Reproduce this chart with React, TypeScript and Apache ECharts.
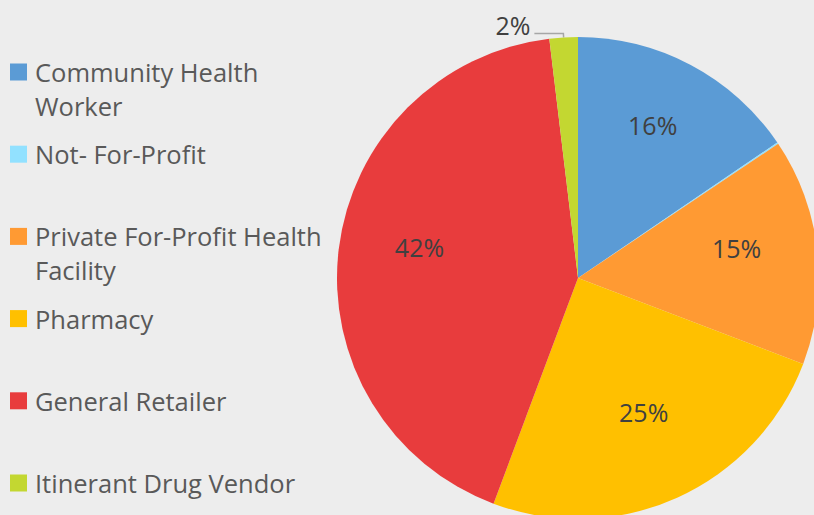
import React, { useEffect, useRef } from "react";
import * as echarts from "echarts";

const categories = [
  "Community Health Worker",
  "Not- For-Profit",
  "Private For-Profit Health Facility",
  "Pharmacy",
  "General Retailer",
  "Itinerant Drug Vendor",
];
const legendLabels = [
  "Community Health\nWorker",
  "Not- For-Profit",
  "Private For-Profit Health\nFacility",
  "Pharmacy",
  "General Retailer",
  "Itinerant Drug Vendor",
];
const values = [15.5, 0.1, 15.2, 24.9, 42.4, 1.9];
const colors = ["#5b9bd5", "#92e1ff", "#ff9a33", "#ffc000", "#e83c3d", "#c3d731"];

const FONT = "'Open Sans', sans-serif";
const CX = 578;
const CY = 278;
const R = 241;

export default function App() {
  const ref = useRef<HTMLDivElement>(null);
  useEffect(() => {
    if (!ref.current) return;
    const chart = echarts.init(ref.current, null, { renderer: "svg" });
    const lineH = 34;
    const slotTop = 72;
    const slotStep = 82.2;
    const legends = categories.map((name, i) => {
      const lines = legendLabels[i].split("\n").length;
      const center = slotTop + slotStep * i;
      // prefix blank lines so the first text line sits level with the icon
      const text = "\n".repeat(lines - 1) + legendLabels[i];
      return {
        show: true,
        orient: "vertical",
        left: 10,
        top: center - lineH / 2 - lineH * (lines - 1),
        padding: 0,
        itemWidth: 17,
        itemHeight: 17,
        icon: "rect",
        selectedMode: false,
        data: [name],
        formatter: () => text,
        textStyle: {
          fontFamily: FONT,
          fontSize: 25.5,
          color: "#595959",
          lineHeight: lineH,
          padding: [0, 0, 0, 3],
        },
      };
    });
    const fmt = (p: any) => Math.round(p.value) + "%";
    chart.setOption({
      animation: false,
      backgroundColor: "#ededed",
      legend: legends,
      series: [
        {
          type: "pie",
          center: [CX, CY],
          radius: R,
          startAngle: 90,
          clockwise: true,
          emphasis: { disabled: true },
          data: categories.map((name, i) => ({
            name,
            value: values[i],
            itemStyle: { color: colors[i], borderWidth: 0 },
            label: { show: values[i] >= 1 && values[i] < 5 },
            labelLine: { show: values[i] >= 1 && values[i] < 5 },
          })),
          label: {
            position: "outside",
            formatter: fmt,
            fontFamily: FONT,
            fontSize: 25,
            color: "#404040",
            distanceToLabelLine: 4,
          },
          labelLine: {
            length: 4,
            length2: 29,
            smooth: false,
            lineStyle: { color: "#a6a6a6", width: 1.5 },
          },
          labelLayout: { dy: -8 },
        },
        {
          type: "pie",
          center: [CX, CY],
          radius: R * 1.3,
          startAngle: 90,
          clockwise: true,
          silent: true,
          emphasis: { disabled: true },
          itemStyle: { color: "rgba(0,0,0,0)" },
          data: categories.map((name, i) => ({
            name,
            value: values[i],
            label: { show: values[i] >= 5 },
          })),
          label: {
            position: "inside",
            formatter: fmt,
            fontFamily: FONT,
            fontSize: 25,
            color: "#404040",
          },
          labelLine: { show: false },
          labelLayout: { dy: -12 },
        },
      ],
    });
    return () => chart.dispose();
  }, []);
  return (
    <div
      ref={ref}
      style={{ position: "fixed", left: 0, top: 0, width: 814, height: 515 }}
    />
  );
}
